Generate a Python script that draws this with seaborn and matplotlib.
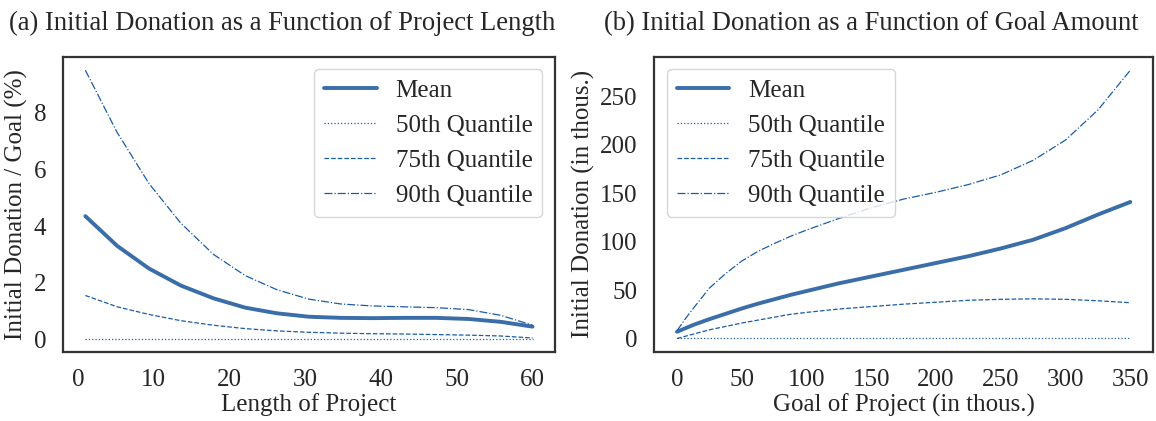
import numpy as np
import pandas as pd
import matplotlib
matplotlib.use("Agg")
import matplotlib.pyplot as plt
import seaborn as sns

# Panel (a): project length (days) vs initial donation / goal (%)
length_x = [1.0, 5.2, 9.4, 13.6, 17.9, 22.1, 26.3, 30.5, 34.7, 38.9, 43.1, 47.3, 51.6, 55.8, 60.0]
len_mean = [4.35, 3.30, 2.50, 1.90, 1.45, 1.12, 0.92, 0.80, 0.76, 0.75, 0.76, 0.76, 0.72, 0.62, 0.45]
len_q50 = [0.03, 0.03, 0.03, 0.03, 0.03, 0.03, 0.03, 0.03, 0.03, 0.03, 0.03, 0.03, 0.03, 0.03, 0.03]
len_q75 = [1.55, 1.15, 0.88, 0.66, 0.50, 0.38, 0.30, 0.25, 0.22, 0.20, 0.19, 0.17, 0.15, 0.12, 0.05]
len_q90 = [9.50, 7.30, 5.50, 4.10, 3.00, 2.25, 1.75, 1.42, 1.25, 1.18, 1.15, 1.12, 1.05, 0.85, 0.50]

# Panel (b): goal amount (thous.) vs initial donation (thous.)
goal_x = [0, 6.25, 12.5, 25, 37.5, 50, 62.5, 75, 87.5, 100, 125, 150, 175, 200, 225, 250, 275, 300, 325, 350]
goal_mean = [7, 10.5, 14, 20, 25.5, 31, 36, 40.5, 45, 49, 57, 64, 71, 78, 85, 93, 102, 114, 128, 141]
goal_q50 = [0.5] * 20
goal_q75 = [0, 2.3, 4.5, 9, 12.5, 16, 19, 22, 25, 27, 30.5, 33, 35.5, 37.5, 39.5, 40.5, 41, 40.5, 39, 37]
goal_q90 = [8, 20, 31, 52, 67, 80, 90, 98, 105.5, 112, 124, 135, 144, 151, 159, 169, 184, 205, 236, 277]

labels = ["Mean", "50th Quantile", "75th Quantile", "90th Quantile"]
titles = ["(a) Initial Donation as a Function of Project Length",
          "(b) Initial Donation as a Function of Goal Amount"]

sns.set_theme(style="white")
plt.rcParams["font.family"] = ["Liberation Serif", "DejaVu Serif"]
plt.rcParams["font.size"] = 18
plt.rcParams["axes.edgecolor"] = "#333333"
plt.rcParams["axes.linewidth"] = 1.6

MEAN_C = "#3b6ea8"
Q_C = "#1a5ca8"
FS = 18

fig = plt.figure(figsize=(11.56, 4.21), dpi=100)
ax1 = fig.add_axes([0.0545, 0.164, 0.4255, 0.701])
ax2 = fig.add_axes([0.566, 0.164, 0.4314, 0.701])

def draw(ax, x, series):
    styles = [("-", 2.8, MEAN_C), (":", 0.9, Q_C), ("--", 0.9, Q_C), ("-.", 0.9, Q_C)]
    for (ls, lw, c), lab, y in zip(styles, labels, series):
        df = pd.DataFrame({"x": x, "y": y})
        sns.lineplot(data=df, x="x", y="y", ax=ax, color=c, linestyle=ls,
                     linewidth=lw, label=lab)

draw(ax1, length_x, [len_mean, len_q50, len_q75, len_q90])
draw(ax2, goal_x, [goal_mean, goal_q50, goal_q75, goal_q90])

ax1.set_xticks([0, 10, 20, 30, 40, 50, 60])
ax1.set_yticks([0, 2, 4, 6, 8])
ax2.set_xticks([0, 50, 100, 150, 200, 250, 300, 350])
ax2.set_yticks([0, 50, 100, 150, 200, 250])

ax1.set_xlabel("Length of Project", fontsize=FS, labelpad=2)
ax1.set_ylabel("Initial Donation / Goal (%)", fontsize=FS, labelpad=4)
ax2.set_xlabel("Goal of Project (in thous.)", fontsize=FS, labelpad=2)
ax2.set_ylabel("Initial Donation (in thous.)", fontsize=FS, labelpad=4)

fig.text(282 / 1156, 1 - 30 / 421, titles[0], fontsize=19.2, ha="center", va="baseline")
fig.text(871 / 1156, 1 - 30 / 421, titles[1], fontsize=19.2, ha="center", va="baseline")

for ax in (ax1, ax2):
    ax.tick_params(labelsize=FS, pad=6)

ax1.legend(loc="upper right", fontsize=FS, handlelength=2.1, handletextpad=0.75)
ax2.legend(loc="upper left", fontsize=FS, handlelength=2.1, handletextpad=0.75)

fig.savefig("out.png", dpi=100)
